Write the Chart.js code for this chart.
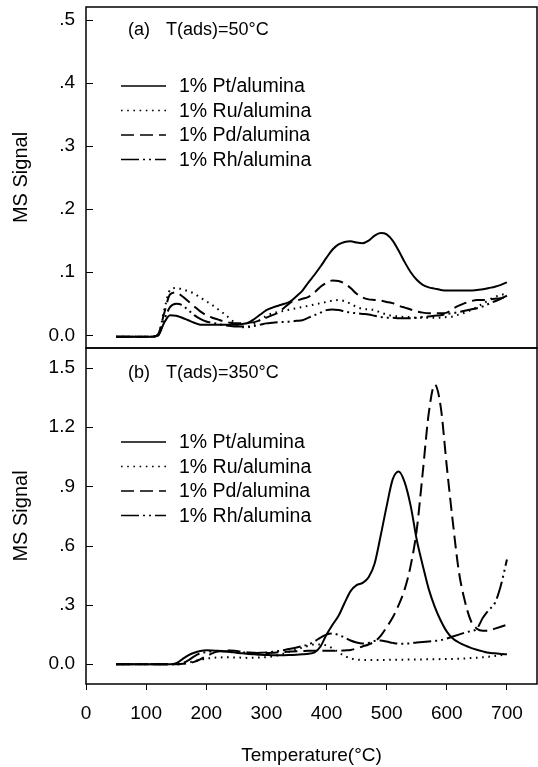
<!DOCTYPE html>
<html lang="en">
<head>
<meta charset="UTF-8">
<title>MS Signal vs Temperature</title>
<script src="https://cdn.jsdelivr.net/npm/chart.js"></script>
<style>
  html, body { margin: 0; padding: 0; background: #fff; }
  #wrap { position: relative; width: 538px; height: 767px; }
  #wrap canvas { position: absolute; left: 0; top: 0; }
</style>
</head>
<body>
<div id="wrap">
  <canvas id="chartA" width="538" height="767"></canvas>
  <canvas id="chartB" width="538" height="767"></canvas>
</div>
<script>
// temperatures (deg C), shared by both panels
const temps = [
  50, 60, 70, 80, 90, 100, 110, 120, 130, 140,
  150, 160, 170, 180, 190, 200, 210, 220, 230, 240,
  250, 260, 270, 280, 290, 300, 310, 320, 330, 340,
  350, 360, 370, 380, 390, 400, 410, 420, 430, 440,
  450, 460, 470, 480, 490, 500, 510, 520, 530, 540,
  550, 560, 570, 580, 590, 600, 610, 620, 630, 640,
  650, 660, 670, 680, 690, 700
];

const seriesNames = ['1% Pt/alumina', '1% Ru/alumina', '1% Pd/alumina', '1% Rh/alumina'];

// panel (a) T(ads)=50C
const ptA = [
  -0.002, -0.002, -0.002, -0.002, -0.002, -0.002, -0.002, 0.000, 0.020, 0.032,
  0.031, 0.028, 0.024, 0.020, 0.017, 0.017, 0.017, 0.017, 0.017, 0.017,
  0.017, 0.018, 0.020, 0.026, 0.033, 0.040, 0.044, 0.047, 0.050, 0.054,
  0.062, 0.071, 0.084, 0.096, 0.109, 0.123, 0.136, 0.144, 0.148, 0.149,
  0.147, 0.146, 0.150, 0.158, 0.162, 0.160, 0.150, 0.134, 0.116, 0.100,
  0.088, 0.080, 0.076, 0.074, 0.072, 0.071, 0.071, 0.071, 0.071, 0.071,
  0.072, 0.073, 0.075, 0.077, 0.080, 0.084
];
const ruA = [
  -0.002, -0.002, -0.002, -0.002, -0.002, -0.002, -0.002, 0.000, 0.040, 0.072,
  0.075, 0.073, 0.070, 0.066, 0.060, 0.054, 0.048, 0.041, 0.034, 0.026,
  0.018, 0.013, 0.013, 0.018, 0.025, 0.031, 0.035, 0.037, 0.039, 0.041,
  0.043, 0.045, 0.047, 0.049, 0.051, 0.053, 0.055, 0.056, 0.054, 0.050,
  0.045, 0.042, 0.041, 0.040, 0.036, 0.033, 0.031, 0.030, 0.029, 0.029,
  0.028, 0.028, 0.028, 0.028, 0.028, 0.029, 0.030, 0.033, 0.036, 0.040,
  0.045, 0.050, 0.056, 0.061, 0.064, 0.066
];
const pdA = [
  -0.002, -0.002, -0.002, -0.002, -0.002, -0.002, -0.002, 0.002, 0.035, 0.065,
  0.068, 0.062, 0.054, 0.046, 0.038, 0.032, 0.028, 0.025, 0.022, 0.020,
  0.019, 0.019, 0.020, 0.021, 0.024, 0.028, 0.032, 0.036, 0.044, 0.052,
  0.055, 0.058, 0.061, 0.068, 0.077, 0.083, 0.087, 0.086, 0.082, 0.075,
  0.066, 0.060, 0.057, 0.056, 0.055, 0.053, 0.051, 0.047, 0.044, 0.041,
  0.038, 0.036, 0.035, 0.035, 0.035, 0.036, 0.042, 0.047, 0.051, 0.054,
  0.056, 0.056, 0.057, 0.058, 0.059, 0.061
];
const rhA = [
  -0.002, -0.002, -0.002, -0.002, -0.002, -0.002, -0.002, 0.000, 0.025, 0.045,
  0.050, 0.048, 0.040, 0.032, 0.026, 0.022, 0.020, 0.018, 0.016, 0.015,
  0.014, 0.014, 0.014, 0.015, 0.017, 0.019, 0.020, 0.021, 0.021, 0.022,
  0.023, 0.024, 0.028, 0.032, 0.036, 0.040, 0.041, 0.040, 0.038, 0.036,
  0.035, 0.034, 0.033, 0.031, 0.029, 0.028, 0.028, 0.027, 0.027, 0.027,
  0.028, 0.029, 0.030, 0.031, 0.032, 0.034, 0.035, 0.037, 0.039, 0.041,
  0.043, 0.046, 0.050, 0.054, 0.058, 0.063
];

// panel (b) T(ads)=350C
const ptB = [
  0, 0, 0, 0, 0, 0, 0, 0, 0, 0,
  0.005, 0.025, 0.045, 0.058, 0.067, 0.071, 0.070, 0.068, 0.065, 0.062,
  0.058, 0.055, 0.052, 0.050, 0.048, 0.047, 0.046, 0.046, 0.046, 0.047,
  0.048, 0.050, 0.053, 0.060, 0.090, 0.150, 0.200, 0.245, 0.310, 0.370,
  0.400, 0.412, 0.440, 0.510, 0.650, 0.800, 0.935, 0.975, 0.920, 0.800,
  0.630, 0.500, 0.380, 0.290, 0.220, 0.165, 0.130, 0.110, 0.095, 0.083,
  0.073, 0.065, 0.058, 0.055, 0.052, 0.050
];
const ruB = [
  0, 0, 0, 0, 0, 0, 0, 0, 0, 0,
  0.000, 0.003, 0.008, 0.015, 0.022, 0.028, 0.032, 0.034, 0.035, 0.035,
  0.034, 0.033, 0.032, 0.033, 0.034, 0.036, 0.040, 0.046, 0.055, 0.065,
  0.075, 0.085, 0.093, 0.100, 0.100, 0.095, 0.080, 0.060, 0.042, 0.030,
  0.024, 0.022, 0.022, 0.022, 0.022, 0.022, 0.023, 0.023, 0.023, 0.024,
  0.024, 0.024, 0.025, 0.025, 0.026, 0.026, 0.027, 0.028, 0.029, 0.031,
  0.033, 0.035, 0.038, 0.042, 0.046, 0.050
];
const pdB = [
  0, 0, 0, 0, 0, 0, 0, 0, 0, 0,
  0.000, 0.002, 0.005, 0.012, 0.025, 0.040, 0.055, 0.065, 0.070, 0.070,
  0.067, 0.063, 0.060, 0.058, 0.057, 0.057, 0.058, 0.060, 0.062, 0.064,
  0.066, 0.067, 0.068, 0.068, 0.068, 0.068, 0.068, 0.068, 0.070, 0.072,
  0.080, 0.090, 0.100, 0.115, 0.144, 0.188, 0.236, 0.300, 0.380, 0.500,
  0.680, 0.970, 1.270, 1.415, 1.300, 1.000, 0.720, 0.470, 0.320, 0.220,
  0.180, 0.170, 0.170, 0.180, 0.190, 0.200
];
const rhB = [
  0, 0, 0, 0, 0, 0, 0, 0, 0, 0,
  0.000, 0.005, 0.020, 0.040, 0.055, 0.062, 0.065, 0.066, 0.066, 0.065,
  0.063, 0.060, 0.058, 0.057, 0.058, 0.060, 0.063, 0.067, 0.072, 0.078,
  0.085, 0.092, 0.100, 0.115, 0.135, 0.150, 0.155, 0.148, 0.135, 0.120,
  0.110, 0.105, 0.108, 0.118, 0.120, 0.115, 0.108, 0.104, 0.104, 0.106,
  0.110, 0.113, 0.115, 0.118, 0.122, 0.130, 0.140, 0.150, 0.160, 0.168,
  0.180, 0.235, 0.275, 0.310, 0.400, 0.530
];

const xTicks = [0, 100, 200, 300, 400, 500, 600, 700];
const yTicksA = [0, 0.1, 0.2, 0.3, 0.4, 0.5];
const yLabelsA = ['0.0', '.1', '.2', '.3', '.4', '.5'];
const yTicksB = [0, 0.3, 0.6, 0.9, 1.2, 1.5];
const yLabelsB = ['0.0', '.3', '.6', '.9', '1.2', '1.5'];

const FONT = '"Liberation Sans", Arial, sans-serif';
const dashes = [[], [1.6, 4.6], [13, 6], [18, 4, 2, 4, 2, 4]];

Chart.defaults.color = '#000';
Chart.defaults.font.family = FONT;

function makeDatasets(seriesList) {
  return seriesList.map((vals, i) => ({
    label: seriesNames[i],
    data: temps.map((t, k) => ({ x: t, y: vals[k] })),
    borderColor: '#000',
    borderWidth: 2,
    borderDash: dashes[i],
    pointRadius: 0,
    fill: false,
    cubicInterpolationMode: 'monotone'
  }));
}

function hline(ctx, x1, y1, x2, y2) {
  ctx.beginPath();
  ctx.moveTo(x1, y1);
  ctx.lineTo(x2, y2);
  ctx.stroke();
}

// frame, inward y ticks, panel tag and the hand-placed legend
const panelDecor = {
  id: 'panelDecor',
  afterDraw(chart, args, opts) {
    const { ctx, chartArea: a } = chart;
    const y = chart.scales.y;
    ctx.save();
    ctx.strokeStyle = '#000';
    ctx.setLineDash([]);
    ctx.lineWidth = 1.5;
    ctx.strokeRect(a.left, a.top, a.right - a.left, a.bottom - a.top);

    ctx.lineWidth = 1;
    opts.ticks.forEach(v => {
      const py = Math.round(y.getPixelForValue(v)) + 0.5;
      hline(ctx, a.left, py, a.left + 7, py);
    });

    ctx.fillStyle = '#000';
    ctx.textBaseline = 'middle';
    ctx.textAlign = 'left';
    ctx.font = '18px ' + FONT;
    ctx.fillText(opts.tag, 128, opts.tagY);
    ctx.fillText(opts.cond, 166, opts.tagY);

    chart.data.datasets.forEach((ds, i) => {
      const ly = opts.legendY + i * 24.5;
      ctx.setLineDash(ds.borderDash);
      ctx.lineWidth = 1.5;
      hline(ctx, 121, ly, 166, ly);
      ctx.setLineDash([]);
      ctx.font = '19.5px ' + FONT;
      ctx.fillText(ds.label, 179, ly + 1);
    });
    ctx.restore();
  }
};

function yScale(min, max, ticks, labels) {
  return {
    type: 'linear',
    min: min,
    max: max,
    afterBuildTicks: s => { s.ticks = ticks.map(v => ({ value: v })); },
    afterFit: s => { s.width = 86; s.paddingTop = 0; s.paddingBottom = 0; },
    grid: { display: false, drawTicks: false },
    border: { display: false },
    ticks: {
      padding: 11,
      font: { size: 19 },
      callback: v => labels[ticks.indexOf(v)]
    },
    title: {
      display: true,
      text: 'MS Signal',
      font: { size: 20 },
      padding: { top: 9, bottom: 0 }
    }
  };
}

new Chart(document.getElementById('chartA'), {
  type: 'line',
  data: { datasets: makeDatasets([ptA, ruA, pdA, rhA]) },
  options: {
    responsive: false,
    animation: false,
    devicePixelRatio: 1,
    layout: { padding: { top: 7, right: 1, bottom: 419, left: 0 } },
    scales: {
      x: { type: 'linear', min: 0, max: 750, display: false },
      y: yScale(-0.02, 0.52, yTicksA, yLabelsA)
    },
    plugins: {
      legend: { display: false },
      tooltip: { enabled: false },
      panelDecor: { ticks: yTicksA, tag: '(a)', cond: 'T(ads)=50°C', tagY: 30, legendY: 86 }
    }
  },
  plugins: [panelDecor]
});

new Chart(document.getElementById('chartB'), {
  type: 'line',
  data: { datasets: makeDatasets([ptB, ruB, pdB, rhB]) },
  options: {
    responsive: false,
    animation: false,
    devicePixelRatio: 1,
    layout: { padding: { top: 348, right: 1, bottom: 0, left: 0 } },
    scales: {
      x: {
        type: 'linear',
        min: 0,
        max: 750,
        afterBuildTicks: s => { s.ticks = xTicks.map(v => ({ value: v })); },
        afterFit: s => { s.height = 83; s.paddingLeft = 0; s.paddingRight = 0; },
        grid: { display: true, drawOnChartArea: false, tickLength: 6, color: '#000', lineWidth: 1 },
        border: { display: false },
        ticks: { padding: 12, font: { size: 19 } },
        title: {
          display: true,
          text: 'Temperature(°C)',
          font: { size: 19 },
          padding: { top: 0, bottom: 0 }
        }
      },
      y: yScale(-0.1, 1.6, yTicksB, yLabelsB)
    },
    plugins: {
      legend: { display: false },
      tooltip: { enabled: false },
      panelDecor: { ticks: yTicksB, tag: '(b)', cond: 'T(ads)=350°C', tagY: 373, legendY: 442 }
    }
  },
  plugins: [panelDecor]
});
</script>
</body>
</html>
